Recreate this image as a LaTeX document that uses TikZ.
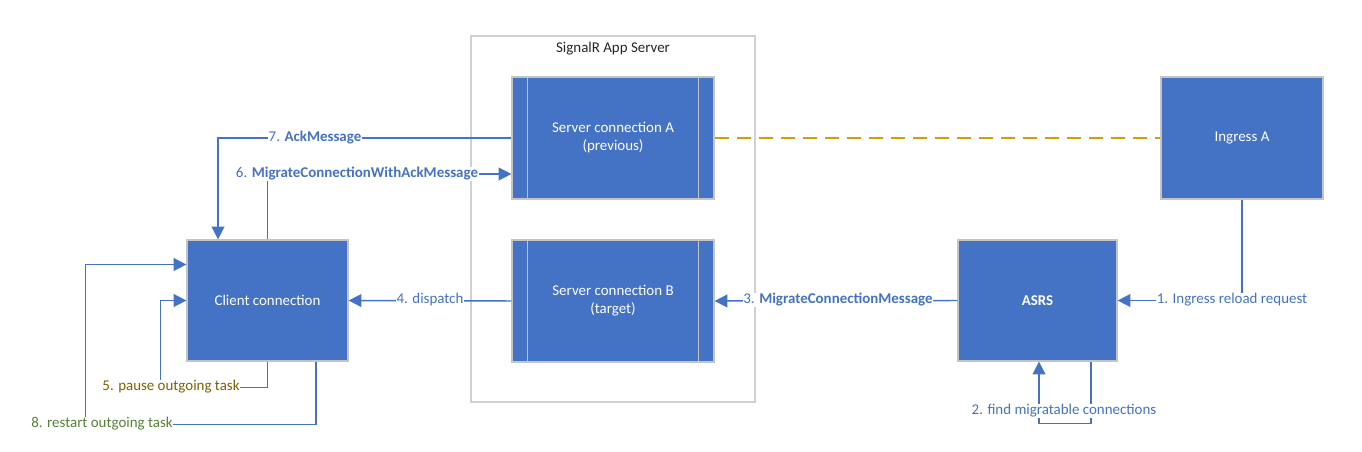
\documentclass[tikz,border=0pt]{standalone}
\usepackage{fontspec}
\setmainfont{Carlito}
\usetikzlibrary{arrows.meta,calc}
\definecolor{boxblue}{HTML}{4472C4}
\definecolor{boxedge}{HTML}{C4C4C4}
\definecolor{contedge}{HTML}{D0D0D0}
\definecolor{dashor}{HTML}{D19F00}
\definecolor{olivetxt}{HTML}{7F6000}
\definecolor{greentxt}{HTML}{548235}
\definecolor{titletxt}{HTML}{262626}
\tikzset{
  bluebox/.style={draw=boxedge, line width=0.9pt, fill=boxblue, text=white, align=center,
    inner sep=0pt, font=\fontsize{11.2}{13.5}\selectfont},
  conn/.style={draw=boxblue, line width=1.1pt, -{Triangle[length=9.5pt,width=9.5pt]}},
  lbl/.style={fill=white, inner sep=0.6pt, text=boxblue, font=\fontsize{11.2}{13}\selectfont},
  innerline/.style={draw=boxedge, line width=0.9pt},
}
\begin{document}
\begin{tikzpicture}[x=0.75pt,y=-0.75pt]
\useasboundingbox (0,0) rectangle (1362,452);
\fill[white] (0,0) rectangle (1362,452);
% container
\node[draw=contedge, line width=1.1pt, minimum width=284*0.75pt, minimum height=366*0.75pt, inner sep=0pt] (cont) at (613,219) {};
\node[text=titletxt, font=\fontsize{11.2}{13}\selectfont] (conttitle) at (613,49) {SignalR App Server};
% boxes
\node[bluebox, minimum width=161*0.75pt, minimum height=121*0.75pt] (client) at (267.5,300.5) {Client connection};
\node[bluebox, minimum width=202*0.75pt, minimum height=122*0.75pt] (srvA) at (613,138) {Server connection A\\(previous)};
\node[bluebox, minimum width=202*0.75pt, minimum height=122*0.75pt] (srvB) at (613,301) {Server connection B\\(target)};
\node[bluebox, minimum width=159*0.75pt, minimum height=121*0.75pt, font=\fontsize{11.2}{13}\selectfont\bfseries] (asrs) at (1037.5,300.5) {ASRS};
\node[bluebox, minimum width=162*0.75pt, minimum height=122*0.75pt] (ingress) at (1242,138) {Ingress A};
% inner lines of server boxes
\draw[innerline] ($(srvA.north west)+(16,0)$) -- ($(srvA.south west)+(16,0)$);
\draw[innerline] ($(srvA.north east)+(-16,0)$) -- ($(srvA.south east)+(-16,0)$);
\draw[innerline] ($(srvB.north west)+(16,0)$) -- ($(srvB.south west)+(16,0)$);
\draw[innerline] ($(srvB.north east)+(-16,0)$) -- ($(srvB.south east)+(-16,0)$);
% dashed link
\draw[dashor, line width=1.6pt, dash pattern=on 10.5pt off 6pt] (srvA.east) -- (ingress.west);
% 1
\draw[conn] (ingress.south) |- (asrs.east);
\node[lbl] (l1) at (1232,300) {1. Ingress reload request};
% 2
\draw[conn] ($(asrs.south)+(53.5,0)$) -- ++(0,62) -| ($(asrs.south)+(1.5,0)$);
\node[lbl] (l2) at (1064,411) {2. find migratable connections};
% 3
\draw[conn] (asrs.west) -- (srvB.east);
\node[lbl] (l3) at (838,300) {3. \textbf{MigrateConnectionMessage}};
% 4
\draw[conn] (srvB.west) -- (client.east);
\node[lbl] (l4) at (430,300) {4. dispatch};
% 5
\draw[conn] (client.south) -- ++(0,26) -| ($(client.west)+(-26,0)$) -- (client.west);
\node[lbl, text=olivetxt] (l5) at (171,387) {5. pause outgoing task};
% 8
\draw[conn] ($(client.south)+(48.5,0)$) -- ++(0,63) -| ($(client.west)+(-101,-36)$) -- ($(client.west)+(0,-36)$);
\node[lbl, text=greentxt] (l8) at (102,424) {8. restart outgoing task};
% 6
\draw[conn] (client.north) |- ($(srvA.west)+(0,36)$);
\node[lbl] (l6) at (357,174) {6. \textbf{MigrateConnectionWithAckMessage}};
% 7
\draw[conn] (srvA.west) -| ($(client.north)+(-49.5,0)$);
\node[lbl] (l7) at (315,138) {7. \textbf{AckMessage}};
\end{tikzpicture}
\end{document}
